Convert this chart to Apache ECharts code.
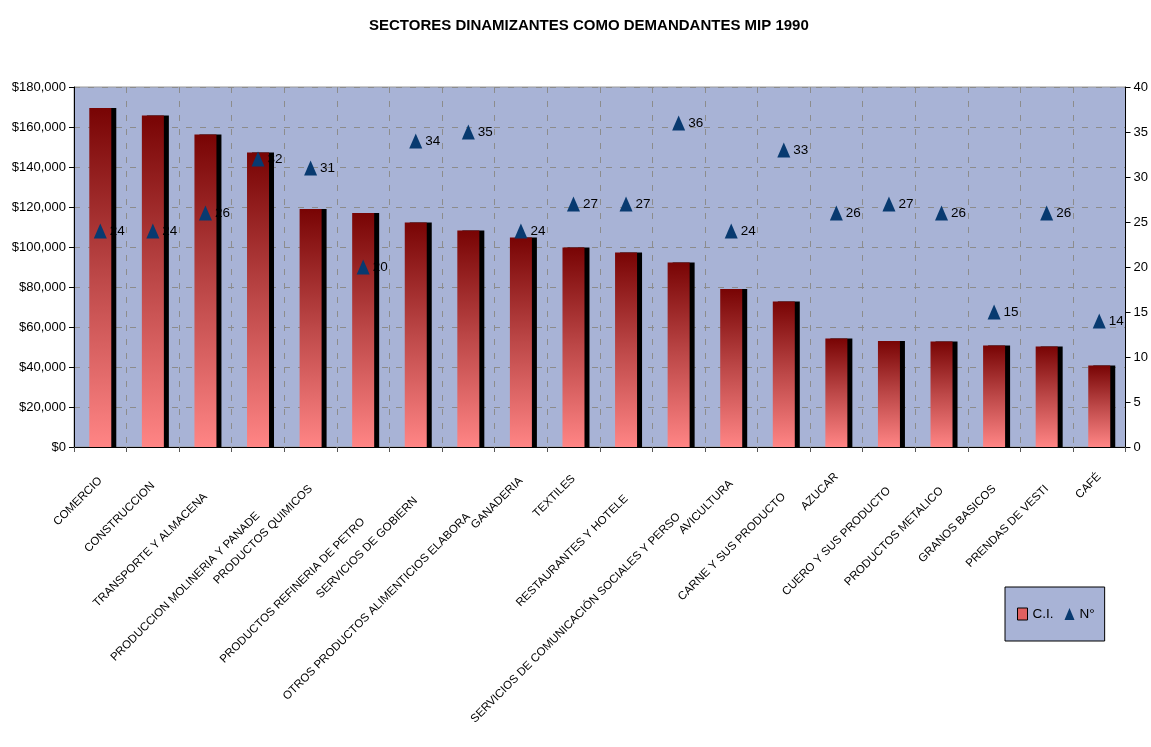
<!DOCTYPE html>
<html>
<head>
<meta charset="utf-8">
<script src="https://cdn.jsdelivr.net/npm/echarts@6/dist/echarts.min.js"></script>
<style>
    html, body { margin: 0; padding: 0; background: #fff; }
    #chart { width: 1151px; height: 747px; }
</style>
</head>
<body>
<div id="chart"></div>
<script>
// datos
const sectores = [
    'COMERCIO', 'CONSTRUCCION', 'TRANSPORTE Y ALMACENA', 'PRODUCCION MOLINERIA Y PANADE',
    'PRODUCTOS QUIMICOS', 'PRODUCTOS REFINERIA DE PETRO', 'SERVICIOS DE GOBIERN',
    'OTROS PRODUCTOS ALIMENTICIOS ELABORA', 'GANADERIA', 'TEXTILES', 'RESTAURANTES Y HOTELE',
    'SERVICIOS DE COMUNICACIÓN SOCIALES Y PERSO', 'AVICULTURA', 'CARNE Y SUS PRODUCTO',
    'AZUCAR', 'CUERO Y SUS PRODUCTO', 'PRODUCTOS METALICO', 'GRANOS BASICOS',
    'PRENDAS DE VESTI', 'CAFÉ'
];
const consumoIntermedio = [
    169500, 165700, 156200, 147200, 119000, 117000, 112300, 108200, 104800, 99800,
    97300, 92300, 79000, 72700, 54200, 53000, 52700, 50800, 50200, 40700
];
const numero = [24, 24, 26, 32, 31, 20, 34, 35, 24, 27, 27, 36, 24, 33, 26, 27, 26, 15, 26, 14];
const ticksIzq = [0, 20000, 40000, 60000, 80000, 100000, 120000, 140000, 160000, 180000];
const ticksDer = [0, 5, 10, 15, 20, 25, 30, 35, 40];

// estilo: cuanto baja cada etiqueta del eje x (px), como las deja excel
const bajadaEtiqueta = [4, 9, 20, 39, 12, 45, 24, 40, 4, 2, 22, 40, 7, 20, 0, 14, 14, 12, 12, 0];

const FONT = '"Liberation Sans", Arial, sans-serif';

const rich = {};
sectores.forEach((s, i) => {
    const a = bajadaEtiqueta[i] / 1.414;
    rich['d' + i] = { padding: [2 * a, a, 0, 0], fontSize: 11.5, fontFamily: FONT, color: '#000' };
});

const barColor = new echarts.graphic.LinearGradient(0, 0, 0, 1, [
    { offset: 0, color: '#780404' },
    { offset: 0.5, color: '#bd4848' },
    { offset: 1, color: '#ff8585' }
]);

var chart = echarts.init(document.getElementById('chart'), null, { renderer: 'canvas' });
chart.setOption({
    animation: false,
    backgroundColor: '#fff',
    title: {
        text: 'SECTORES DINAMIZANTES COMO DEMANDANTES MIP 1990',
        left: 364,
        top: 13,
        textStyle: { fontFamily: FONT, fontSize: 15, fontWeight: 'bold', color: '#000' }
    },
    legend: {
        left: 1005,
        top: 587,
        padding: [20, 10, 20, 12],
        backgroundColor: '#a8b3d6',
        borderColor: '#000',
        borderWidth: 1,
        itemGap: 11,
        itemWidth: 10,
        itemHeight: 12,
        textStyle: { fontFamily: FONT, fontSize: 13.5, color: '#000' },
        data: [
            { name: 'C.I.', icon: 'rect', itemStyle: { color: '#e06060', borderColor: '#000', borderWidth: 1, shadowBlur: 0, shadowOffsetX: 0, shadowOffsetY: 0 } },
            { name: 'N°', icon: 'triangle' }
        ]
    },
    grid: {
        left: 74,
        right: 25,
        top: 87,
        bottom: 300,
        show: true,
        backgroundColor: '#a8b3d6',
        borderColor: '#9a9a9a',
        borderWidth: 1
    },
    xAxis: {
        type: 'category',
        data: sectores,
        axisLine: { lineStyle: { color: '#000', width: 1 } },
        axisTick: { show: true, length: 5, lineStyle: { color: '#555' } },
        splitLine: { show: true, lineStyle: { color: '#8c8c8c', type: [6, 8] } },
        axisLabel: {
            interval: 0,
            rotate: 45,
            margin: 28,
            formatter: (v, i) => '{d' + i + '|' + v + '}',
            rich: rich
        }
    },
    yAxis: [
        {
            type: 'value',
            min: ticksIzq[0],
            max: ticksIzq[ticksIzq.length - 1],
            interval: ticksIzq[1] - ticksIzq[0],
            axisLine: { show: true, lineStyle: { color: '#000' } },
            axisTick: { show: true, length: 5, lineStyle: { color: '#000' } },
            splitLine: { show: true, lineStyle: { color: '#8c8c8c', type: [6, 8] } },
            axisLabel: {
                fontFamily: FONT, fontSize: 13, color: '#000', margin: 8,
                formatter: v => '$' + v.toLocaleString('en-US')
            }
        },
        {
            type: 'value',
            min: ticksDer[0],
            max: ticksDer[ticksDer.length - 1],
            interval: ticksDer[1] - ticksDer[0],
            axisLine: { show: true, lineStyle: { color: '#000' } },
            axisTick: { show: true, length: 5, lineStyle: { color: '#000' } },
            splitLine: { show: false },
            axisLabel: { fontFamily: FONT, fontSize: 13, color: '#000', margin: 8 }
        }
    ],
    series: [
        {
            name: 'C.I.',
            type: 'bar',
            yAxisIndex: 0,
            barWidth: 22,
            data: consumoIntermedio,
            itemStyle: {
                color: barColor,
                shadowColor: '#000',
                shadowBlur: 0,
                shadowOffsetX: 5,
                shadowOffsetY: 0
            }
        },
        {
            name: 'N°',
            type: 'scatter',
            yAxisIndex: 1,
            symbol: 'triangle',
            symbolSize: [13, 15],
            data: numero,
            itemStyle: { color: '#083a70', opacity: 1 },
            label: {
                show: true,
                position: 'right',
                distance: 3,
                fontFamily: FONT,
                fontSize: 13.5,
                color: '#000'
            },
            z: 5
        }
    ]
});
</script>
</body>
</html>
